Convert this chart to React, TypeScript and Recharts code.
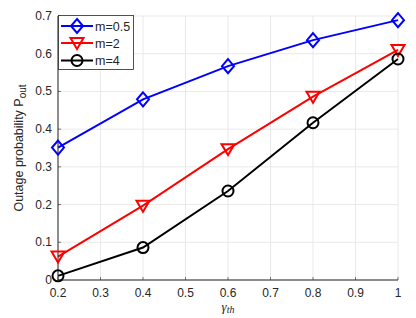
import React from 'react';
import { LineChart, Line, XAxis, YAxis, CartesianGrid } from 'recharts';

// values
const gammaTh = [0.2, 0.4, 0.6, 0.8, 1.0];
const pM05 = [0.351, 0.479, 0.567, 0.636, 0.689];
const pM2 = [0.062, 0.197, 0.347, 0.486, 0.61];
const pM4 = [0.011, 0.086, 0.236, 0.417, 0.586];
const xTicks = [0.2, 0.3, 0.4, 0.5, 0.6, 0.7, 0.8, 0.9, 1];
const yTicks = [0, 0.1, 0.2, 0.3, 0.4, 0.5, 0.6, 0.7];

const data = gammaTh.map((g, i) => ({ g, m05: pM05[i], m2: pM2[i], m4: pM4[i] }));

const AXIS = '#262626';
const FONT = '"Liberation Sans", Arial, sans-serif';

const Diamond = ({ cx, cy, color }: any) => (
  <polygon
    points={`${cx},${cy - 7} ${cx + 6},${cy} ${cx},${cy + 7} ${cx - 6},${cy}`}
    fill="none" stroke={color} strokeWidth={2}
  />
);
const TriDown = ({ cx, cy, color }: any) => (
  <polygon
    points={`${cx - 6.5},${cy - 5} ${cx + 6.5},${cy - 5} ${cx},${cy + 6}`}
    fill="none" stroke={color} strokeWidth={2}
  />
);
const Ring = ({ cx, cy, color }: any) => (
  <circle cx={cx} cy={cy} r={5.5} fill="none" stroke={color} strokeWidth={2} />
);

const series = [
  { key: 'm05', name: 'm=0.5', color: '#0000ff', Marker: Diamond },
  { key: 'm2', name: 'm=2', color: '#ff0000', Marker: TriDown },
  { key: 'm4', name: 'm=4', color: '#000000', Marker: Ring },
];

const XTick = ({ x, y, payload }: any) => (
  <g>
    <line x1={x} x2={x} y1={y - 6} y2={y - 9} stroke={AXIS} strokeWidth={0.6} />
    <text x={x} y={y} dy={11} textAnchor="middle" fontSize={12} fill={AXIS} fontFamily={FONT}>
      {payload.value === 1 ? '1' : payload.value.toFixed(1)}
    </text>
  </g>
);

const YTick = ({ x, y, payload }: any) => (
  <g>
    <line x1={x + 6} x2={x + 9} y1={y} y2={y} stroke={AXIS} strokeWidth={0.6} />
    <text x={x} y={y} dy={4} textAnchor="end" fontSize={12} fill={AXIS} fontFamily={FONT}>
      {payload.value === 0 ? '0' : payload.value.toFixed(1)}
    </text>
  </g>
);

const LegendBox = () => (
  <svg width={76} height={55} style={{ display: 'block' }}>
    <rect x={0.5} y={0.5} width={75} height={54} fill="#fff" stroke={AXIS} strokeWidth={0.8} />
    {series.map((s, i) => {
      const cy = [11, 28, 45.5][i];
      const M = s.Marker;
      return (
        <g key={s.key}>
          <line x1={3} x2={35} y1={cy} y2={cy} stroke={s.color} strokeWidth={2} />
          <M cx={19} cy={cy} color={s.color} />
          <text x={37} y={cy + 4.5} fontSize={12.5} fill={AXIS} fontFamily={FONT}>{s.name}</text>
        </g>
      );
    })}
  </svg>
);

export default function App() {
  return (
    <div style={{ position: 'absolute', left: 0, top: 0, width: 416, height: 318, background: '#fff' }}>
      <LineChart width={416} height={318} data={data} margin={{ top: 16, right: 18, bottom: 0, left: 0 }}>
        <CartesianGrid stroke="#e3e3e3" strokeWidth={0.8} />
        <XAxis
          dataKey="g" type="number" domain={[0.2, 1]} ticks={xTicks}
          height={38} stroke={AXIS} tickLine={false} tickSize={0} tickMargin={6}
          tick={<XTick />}
          label={({ viewBox }: any) => (
            <text x={viewBox.x + viewBox.width / 2} y={viewBox.y + 31} textAnchor="middle"
              fontFamily='"Liberation Serif", "DejaVu Serif", serif' fontStyle="italic" fontSize={13} fill={AXIS}>
              γ<tspan fontSize={10} dy={2}>th</tspan>
            </text>
          )}
        />
        <YAxis
          type="number" domain={[0, 0.7]} ticks={yTicks} width={58}
          stroke={AXIS} tickLine={false} tickSize={0} tickMargin={6}
          tick={<YTick />}
          label={() => {
            const cx = 23;
            const cy = 148;
            return (
              <text x={cx} y={cy} transform={`rotate(-90 ${cx} ${cy})`} textAnchor="middle"
                fontSize={12.5} fill={AXIS} fontFamily={FONT}>
                Outage probability P<tspan fontSize={10} dy={3}>out</tspan>
              </text>
            );
          }}
        />
        {series.map((s) => (
          <Line
            key={s.key}
            dataKey={s.key}
            name={s.name}
            type="linear"
            stroke={s.color}
            strokeWidth={2}
            isAnimationActive={false}
            dot={(p: any) => <s.Marker key={`${s.key}-${p.index}`} cx={p.cx} cy={p.cy} color={s.color} />}
            activeDot={false}
          />
        ))}
      </LineChart>
      <div style={{ position: 'absolute', left: 58, top: 15 }}>
        <LegendBox />
      </div>
    </div>
  );
}
